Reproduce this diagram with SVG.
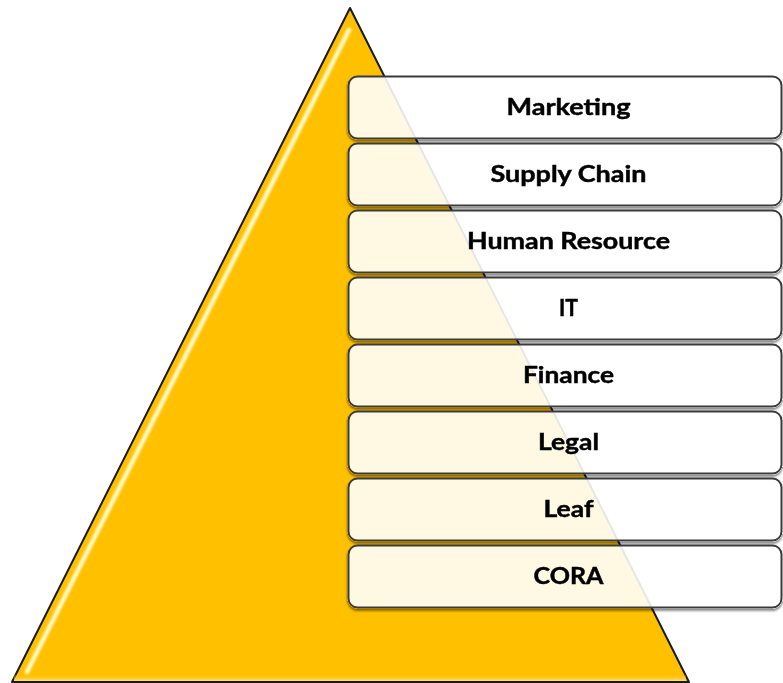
<svg xmlns="http://www.w3.org/2000/svg" width="783" height="683" viewBox="0 0 783 683">
  <defs>
    <!-- shadow kept outside the box outline so the translucent fill stays clean -->
    <filter id="shadow" x="-5%" y="-20%" width="110%" height="150%">
      <feComponentTransfer in="SourceAlpha" result="solid">
        <feFuncA type="linear" slope="12"/>
      </feComponentTransfer>
      <feGaussianBlur in="solid" stdDeviation="1" result="blur"/>
      <feOffset in="blur" dy="2" result="off"/>
      <feFlood flood-color="#000" flood-opacity="0.45"/>
      <feComposite in2="off" operator="in" result="sh"/>
      <feComposite in="sh" in2="solid" operator="out" result="sh2"/>
      <feMerge>
        <feMergeNode in="sh2"/>
        <feMergeNode in="SourceGraphic"/>
      </feMerge>
    </filter>
    <filter id="soft" x="-10%" y="-10%" width="120%" height="120%">
      <feGaussianBlur stdDeviation="0.9"/>
    </filter>
    <linearGradient id="baseShade" x1="0" y1="0" x2="0" y2="1">
      <stop offset="0" stop-color="#FFC000" stop-opacity="0"/>
      <stop offset="1" stop-color="#FFE48A" stop-opacity="0.9"/>
    </linearGradient>
  </defs>
  <style>
    .tier rect { fill: #ffffff; fill-opacity: 0.89; stroke: #3a3a3a; stroke-width: 2; }
    .tier text { font-family: Lato, "Open Sans", "Liberation Sans", sans-serif; font-weight: 700; font-size: 22.5px; fill: #000; stroke: #000; stroke-width: 0.45; text-anchor: middle; }
  </style>

  <rect width="783" height="683" fill="#ffffff"/>

  <!-- pyramid -->
  <g id="pyramid">
    <polygon points="350,8 689,682 12,682" fill="#FFC000" stroke="#1a1a1a" stroke-width="2" stroke-linejoin="round"/>
    <rect x="14" y="674" width="672" height="7" fill="url(#baseShade)"/>
    <!-- bevel highlight along the left face -->
    <line x1="349" y1="30" x2="27" y2="672" stroke="#FFEB80" stroke-width="5" stroke-linecap="round" filter="url(#soft)"/>
    <line x1="349" y1="30" x2="27" y2="672" stroke="#FFFDE6" stroke-width="2.2" stroke-linecap="round" filter="url(#soft)"/>
  </g>

  <!-- tiers -->
  <g id="tier-marketing" class="tier" filter="url(#shadow)">
    <rect x="348.5" y="76.5" width="433" height="62" rx="9"/>
    <text x="568.5" y="114.5" textLength="124" lengthAdjust="spacingAndGlyphs">Marketing</text>
  </g>
  <g id="tier-supply-chain" class="tier" filter="url(#shadow)">
    <rect x="348.5" y="143.5" width="433" height="62" rx="9"/>
    <text x="568.5" y="181.5" textLength="156" lengthAdjust="spacingAndGlyphs">Supply Chain</text>
  </g>
  <g id="tier-human-resource" class="tier" filter="url(#shadow)">
    <rect x="348.5" y="210.5" width="433" height="62" rx="9"/>
    <text x="568.5" y="248.5" textLength="203" lengthAdjust="spacingAndGlyphs">Human Resource</text>
  </g>
  <g id="tier-it" class="tier" filter="url(#shadow)">
    <rect x="348.5" y="277.5" width="433" height="62" rx="9"/>
    <text x="568.5" y="315.5" textLength="19" lengthAdjust="spacingAndGlyphs">IT</text>
  </g>
  <g id="tier-finance" class="tier" filter="url(#shadow)">
    <rect x="348.5" y="344.5" width="433" height="62" rx="9"/>
    <text x="568.5" y="382.5" textLength="91" lengthAdjust="spacingAndGlyphs">Finance</text>
  </g>
  <g id="tier-legal" class="tier" filter="url(#shadow)">
    <rect x="348.5" y="411.5" width="433" height="62" rx="9"/>
    <text x="568.5" y="449.5" textLength="61" lengthAdjust="spacingAndGlyphs">Legal</text>
  </g>
  <g id="tier-leaf" class="tier" filter="url(#shadow)">
    <rect x="348.5" y="478.5" width="433" height="62" rx="9"/>
    <text x="568.5" y="516.5" textLength="50" lengthAdjust="spacingAndGlyphs">Leaf</text>
  </g>
  <g id="tier-cora" class="tier" filter="url(#shadow)">
    <rect x="348.5" y="545.5" width="433" height="62" rx="9"/>
    <text x="568.5" y="583.5" textLength="70" lengthAdjust="spacingAndGlyphs">CORA</text>
  </g>
</svg>
